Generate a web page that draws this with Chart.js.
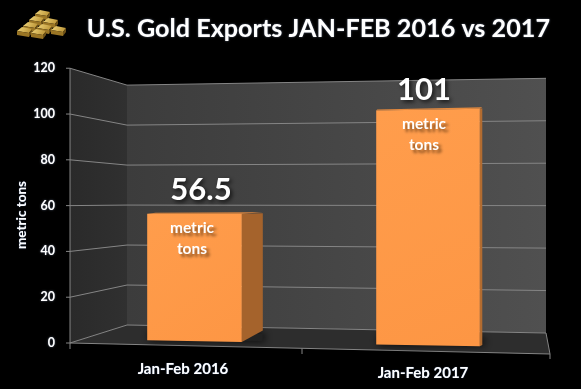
<!DOCTYPE html>
<html lang="en">
<head>
<meta charset="UTF-8">
<title>U.S. Gold Exports JAN-FEB 2016 vs 2017</title>
<script src="https://cdn.jsdelivr.net/npm/chart.js"></script>
<style>
  html, body { margin: 0; padding: 0; background: #000; }
  canvas { display: block; }
</style>
</head>
<body>
<canvas id="goldChart" width="581" height="389"></canvas>
<script>
// chart data
const categories = ['Jan-Feb 2016', 'Jan-Feb 2017'];
const exportTons = [56.5, 101];
const valueLabels = ['56.5', '101'];
const unitLines = ['metric', 'tons'];
const yTicks = [0, 20, 40, 60, 80, 100, 120];

const FONT = 'Lato, "Open Sans", sans-serif';

// fake 3D: the y scale is the front left edge, everything else is derived from it
function backLeftY(py)  { return 325 - (343 - py) * 0.873; }
function backRightY(py) { return 333 - (343 - py) * 0.927; }

// bars stand a bit behind the front edge, so they lean with the perspective
function leanY(x, py) { return 220 + (py - 220) * (1 + 0.000147 * (x - 297)); }
const barShift = [4.5, -2];
const barWiden = [0.95, 1.04];
const sideDepth = [21, 2.5];
const valueShift = [6.5, -4];
const valueGap = [14, 10];
const unitShift = [-2.5, -4];

function shadowText(ctx, text, x, y, font, blur, off, color) {
  ctx.save();
  ctx.font = font;
  ctx.fillStyle = '#fff';
  ctx.textAlign = 'center';
  ctx.textBaseline = 'alphabetic';
  ctx.shadowColor = color;
  ctx.shadowBlur = blur;
  ctx.shadowOffsetX = off;
  ctx.shadowOffsetY = off;
  ctx.fillText(text, x, y);
  ctx.restore();
}

function poly(ctx, pts, fill) {
  ctx.beginPath();
  pts.forEach((p, i) => i ? ctx.lineTo(p[0], p[1]) : ctx.moveTo(p[0], p[1]));
  ctx.closePath();
  ctx.fillStyle = fill;
  ctx.fill();
}

// small pile of gold bars next to the title
function drawGoldPile(ctx) {
  const one = (x, y) => {
    const g = ctx.createLinearGradient(x, y, x + 14, y + 8);
    g.addColorStop(0, '#f0d67c');
    g.addColorStop(1, '#b88f30');
    poly(ctx, [[x + 5, y], [x + 15, y + 2], [x + 12, y + 6], [x, y + 4]], g);
    poly(ctx, [[x, y + 4], [x + 12, y + 6], [x + 12, y + 10], [x, y + 8]], '#9a7524');
    poly(ctx, [[x + 12, y + 6], [x + 15, y + 2], [x + 15, y + 6], [x + 12, y + 10]], '#6f5217');
  };
  one(35, 10);
  one(29, 16); one(43, 18);
  one(23, 22); one(37, 24); one(51, 26);
  one(17, 27); one(31, 29);
}

const scene3d = {
  id: 'scene3d',
  beforeDraw(chart) {
    const ctx = chart.ctx;
    const y = chart.scales.y;
    const top = y.getPixelForValue(yTicks[yTicks.length - 1]);
    const zero = y.getPixelForValue(0);
    const right = chart.chartArea.right;
    const left = chart.chartArea.left;
    const floorLeft = 127, floorRight = 546;

    // walls and floor
    let g = ctx.createLinearGradient(left, 0, floorLeft, 0);
    g.addColorStop(0, '#2a2a2a');
    g.addColorStop(1, '#303030');
    poly(ctx, [[left, top], [floorLeft, backLeftY(top)], [floorLeft, backLeftY(zero)], [left, zero]], g);
    g = ctx.createLinearGradient(floorLeft, 0, floorRight, 0);
    g.addColorStop(0, '#3c3c3c');
    g.addColorStop(1, '#505050');
    poly(ctx, [[floorLeft, backLeftY(top)], [floorRight, backRightY(top)], [floorRight, backRightY(zero)], [floorLeft, backLeftY(zero)]], g);
    poly(ctx, [[left, zero], [floorLeft, backLeftY(zero)], [floorRight, backRightY(zero)], [right, zero + 11]], '#2d2d2d');

    // grid lines bent along the walls
    ctx.strokeStyle = '#858585';
    ctx.lineWidth = 1;
    yTicks.forEach(v => {
      const py = y.getPixelForValue(v);
      ctx.beginPath();
      ctx.moveTo(left - 4, py);
      ctx.lineTo(left, py);
      ctx.lineTo(floorLeft, backLeftY(py));
      ctx.lineTo(floorRight, backRightY(py));
      ctx.stroke();
    });
    // axis lines
    ctx.beginPath();
    ctx.moveTo(left, top);
    ctx.lineTo(left, zero + 6);
    ctx.moveTo(floorRight, backRightY(zero));
    ctx.lineTo(right, zero + 11);
    ctx.lineTo(right, zero + 16);
    ctx.moveTo(left, zero);
    ctx.lineTo(right, zero + 11);
    ctx.moveTo((left + right) / 2 - 8, zero + 5.5);
    ctx.lineTo((left + right) / 2 - 8, zero + 11);
    ctx.stroke();

    drawGoldPile(ctx);

    // soft glow on the title and tick text, cleared again before the bars
    ctx.shadowColor = 'rgba(170,190,230,0.55)';
    ctx.shadowBlur = 2;
  },
  beforeDatasetsDraw(chart) {
    chart.ctx.shadowColor = 'transparent';
    chart.ctx.shadowBlur = 0;
  },
  // bar faces come from the chart's own bar elements, only leaned for the 3D look
  beforeDatasetDraw(chart, args) {
    const ctx = chart.ctx;
    const meta = chart.getDatasetMeta(args.index);
    meta.data.forEach((bar, i) => {
      const cx = bar.x + barShift[i];
      const half = bar.width / 2 * barWiden[i];
      const l = cx - half, r = cx + half;
      const topL = leanY(l, bar.y), topR = leanY(r, bar.y);
      const botL = leanY(l, bar.base), botR = leanY(r, bar.base);
      const d = sideDepth[i];

      // shadow on the floor
      ctx.save();
      ctx.shadowColor = 'rgba(0,0,0,0.9)';
      ctx.shadowBlur = 9;
      ctx.shadowOffsetX = 2;
      poly(ctx, [[l, botL - 8], [r + d, botR - 8], [r + d, botR - 1], [l, botL]], '#222');
      ctx.restore();

      // right side face
      poly(ctx, [[r, topR], [r + d, topR - 0.5], [r + d, botR - d * 0.55], [r, botR]], i ? '#b36c30' : '#a5632c');
      // thin top edge
      poly(ctx, [[l, topL], [l + d * 0.4, topL - 1], [r + d, topR - 1.5], [r, topR]], '#e58a3e');
      // front face
      const g = ctx.createLinearGradient(l, bar.y, r, bar.base);
      g.addColorStop(0, '#ff9d4c');
      g.addColorStop(1, '#fd9644');
      poly(ctx, [[l, topL], [r, topR], [r, botR], [l, botL]], g);
    });
    return false;
  },
  afterDatasetsDraw(chart) {
    const ctx = chart.ctx;
    const meta = chart.getDatasetMeta(0);
    const x = chart.scales.x;

    // value and unit captions on the bars
    meta.data.forEach((bar, i) => {
      const cx = bar.x + barShift[i];
      const topY = leanY(cx, bar.y);
      shadowText(ctx, valueLabels[i], cx + valueShift[i], topY - valueGap[i], 'bold 31px ' + FONT, 4, 2, 'rgba(0,0,0,0.75)');
      unitLines.forEach((line, k) => {
        shadowText(ctx, line, cx + unitShift[i], topY + 19.5 + k * 21, 'bold 15.5px ' + FONT, 3, 3, 'rgba(90,50,15,0.8)');
      });
    });

    // category labels follow the sloping floor edge
    categories.forEach((c, i) => {
      const px = x.getPixelForTick(i) - 7;
      shadowText(ctx, c, px, 374 + i * 4, 'bold 15px ' + FONT, 1, 0, 'rgba(120,170,255,0.6)');
    });

    // y axis title
    ctx.save();
    ctx.translate(26, 215);
    ctx.rotate(-Math.PI / 2);
    shadowText(ctx, 'metric tons', 0, 0, 'bold 13.5px ' + FONT, 1, 0, 'rgba(120,170,255,0.6)');
    ctx.restore();
  }
};

new Chart(document.getElementById('goldChart'), {
  type: 'bar',
  data: {
    labels: categories,
    datasets: [{
      label: 'metric tons',
      data: exportTons,
      backgroundColor: '#fd9644',
      barPercentage: 0.83,
      categoryPercentage: 0.5
    }]
  },
  options: {
    responsive: false,
    animation: false,
    layout: { padding: { top: 0, right: 31, bottom: 0, left: 0 } },
    plugins: {
      legend: { display: false },
      tooltip: { enabled: false },
      title: {
        display: true,
        text: 'U.S. Gold Exports JAN-FEB 2016 vs 2017',
        color: '#fff',
        align: 'end',
        fullSize: false,
        font: { family: FONT, size: 25.2, weight: 'bold' },
        padding: { top: 14, bottom: 24 }
      }
    },
    scales: {
      x: {
        grid: { display: false },
        border: { display: false },
        ticks: { display: false },
        afterFit(s) { s.height = 46; }
      },
      y: {
        min: 0,
        max: 120,
        afterFit(s) { s.width = 70; },
        afterBuildTicks(s) { s.ticks = yTicks.map(v => ({ value: v })); },
        grid: { display: false, drawTicks: false },
        border: { display: false },
        ticks: {
          color: '#fff',
          padding: 15,
          font: { family: FONT, size: 12.5, weight: 'bold' }
        }
      }
    }
  },
  plugins: [scene3d]
});
</script>
</body>
</html>
